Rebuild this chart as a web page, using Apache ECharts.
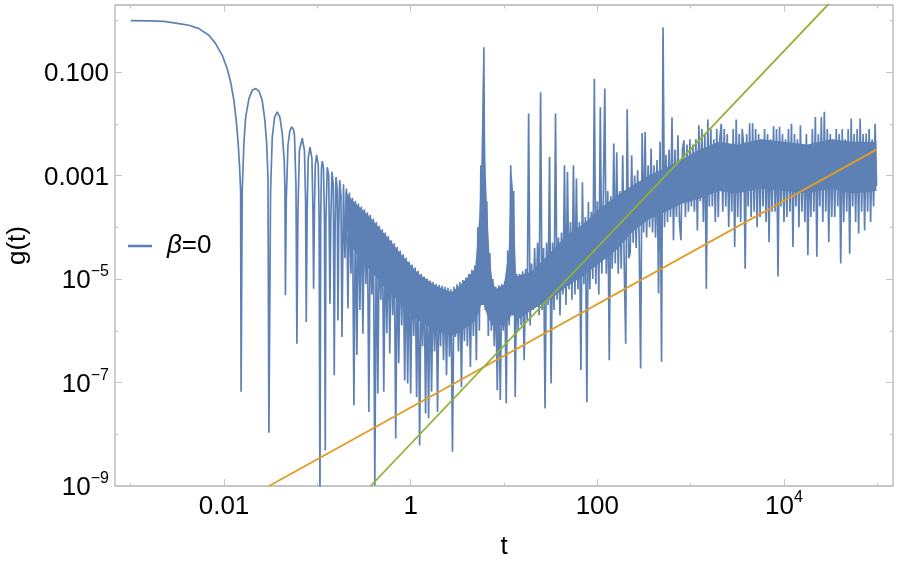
<!DOCTYPE html>
<html>
<head>
<meta charset="utf-8">
<script src="https://cdn.jsdelivr.net/npm/echarts@6/dist/echarts.min.js"></script>
<style>
  html, body { margin: 0; padding: 0; background: #fff; }
  #chart { width: 899px; height: 565px; }
</style>
</head>
<body>
<div id="chart"></div>
<script>
// every value below is a log10: log10(t) and log10(g(t))

// first drop and the resolved oscillation lobes
var earlyLogT = [-3.0, -2.8, -2.642, -2.483, -2.376, -2.269, -2.162, -2.09, -2.019, -1.966, -1.929, -1.894, -1.869, -1.848, -1.833, -1.822, -1.817,
  -1.805, -1.787, -1.768, -1.733, -1.698, -1.661, -1.626, -1.591, -1.562, -1.543, -1.529, -1.519,
  -1.501, -1.483, -1.458, -1.43, -1.401, -1.376, -1.355, -1.347, -1.342,
  -1.333, -1.315, -1.296, -1.276, -1.258, -1.245, -1.229, -1.219,
  -1.208, -1.192, -1.162, -1.138, -1.126, -1.119,
  -1.109, -1.098, -1.079, -1.058, -1.047, -1.04,
  -1.031, -1.022, -1.008, -0.99, -0.981, -0.972,
  -0.964, -0.956, -0.947, -0.934, -0.924, -0.915,
  -0.908, -0.894, -0.878, -0.865,
  -0.856, -0.843, -0.829, -0.819,
  -0.81, -0.8, -0.787, -0.779,
  -0.771, -0.761, -0.747, -0.736];
var earlyLogG = [-0.006, -0.012, -0.02, -0.065, -0.097, -0.161, -0.29, -0.451, -0.677, -0.934, -1.193, -1.55, -1.934, -2.384, -2.836, -3.29, -7.18,
  -3.29, -2.384, -1.87, -1.514, -1.354, -1.32, -1.367, -1.547, -1.934, -2.384, -3.03, -7.97,
  -3.29, -2.256, -1.87, -1.773, -1.87, -2.19, -2.706, -3.29, -5.315,
  -3.48, -2.42, -2.15, -2.06, -2.1, -2.22, -3.19, -6.25,
  -3.68, -2.52, -2.28, -2.52, -3.48, -5.83,
  -3.67, -2.67, -2.45, -2.67, -3.67, -5.19,
  -3.67, -2.8, -2.6, -2.8, -3.87, -9.4,
  -3.87, -2.86, -2.72, -2.86, -3.87, -8.31,
  -3.87, -2.84, -3.0, -5.48,
  -3.87, -2.93, -3.19, -6.86,
  -4.06, -3.03, -3.29, -5.8,
  -4.06, -3.09, -3.39, -6.12];

var denseLogT0 = -0.72;
var denseLogTStep = 0.016;
var decayLogG = [-3.17, -4.6, -3.25, -5.57, -3.33, -4.9, -3.43, -7.44, -3.49, -6.47,
  -3.54, -5.6, -3.6, -6.06, -3.65, -5.1, -3.71, -7.57, -3.76, -5.3,
  -3.83, -8.99, -3.9, -7.21, -3.97, -5.4, -4.04, -7.18, -4.1, -6.05,
  -4.17, -6.44, -4.25, -5.7, -4.31, -8.08, -4.38, -6.63, -4.45, -5.9,
  -4.52, -6.96, -4.59, -7.02, -4.66, -7.21, -4.72, -6.1, -4.78, -7.28,
  -4.84, -8.21, -4.9, -6.3, -4.95, -7.6, -4.99, -7.69, -5.03, -7.18,
  -5.06, -6.4, -5.09, -7.57, -5.11, -6.3, -5.13, -6.57, -5.15, -6.86,
  -5.17, -6.5, -5.2, -8.34, -5.15, -6.12, -5.1, -6.4, -5.06, -7.09,
  -5.02, -6.2, -4.97, -6.3, -4.9, -6.7, -4.82, -6.1, -4.74, -6.57];
var revivalLogG = [-4.0, -6.0, -2.8, -5.5, -0.52, -5.6, -3.5, -6.1, -4.5, -6.0,
  -5.0, -6.3, -5.15, -7.15, -5.12, -7.34, -5.1, -6.0, -5.05, -7.4,
  -4.45, -5.9, -2.8, -5.7, -3.3, -7.28, -4.9, -6.0, -4.9, -5.9,
  -4.85, -6.57, -4.8, -5.8, -1.8, -5.9, -4.7, -5.6, -4.4, -5.5,
  -4.3, -5.7, -1.39, -5.6, -4.4, -7.5, -4.3, -5.5, -2.64, -7.02,
  -4.3, -5.6, -1.8, -5.4, -4.2, -5.7, -4.1, -5.3, -2.8, -5.5,
  -2.93, -5.2, -3.9, -5.4, -2.8, -5.3, -3.06, -5.2, -3.9, -6.76,
  -3.13, -5.1, -3.8, -7.38, -3.51, -5.2, -3.7, -5.0, -1.13, -5.1,
  -3.5, -5.3, -1.68, -4.9, -3.4, -1.32, -4.9, -3.3, -6.57, -3.4,
  -4.8, -2.38, -4.7, -2.55, -4.9, -3.3, -4.8, -2.61, -4.7, -6.25,
  -1.72, -4.6, -4.5, -2.61, -4.3, -3.0, -4.4, -2.9, -4.2, -6.73,
  -2.18, -4.1, -2.16, -4.2, -2.8, -4.0, -2.48, -4.1, -2.8, -4.2,
  -2.7, -5.28, -2.35, -6.6, -0.14, -4.0, -2.6, -3.9, -2.5, -3.8,
  -1.88, -4.25, -2.5, -3.8, -2.22, -3.9, -4.25, -2.5, -2.32, -3.8,
  -2.4, -3.7, -2.3, -3.6, -2.4, -3.7, -2.3, -4.06, -2.03];
var plateauLogG = [-3.5, -2.1, -3.9, -2.2, -5.19, -1.92, -3.6, -2.1, -3.6, -2.3,
  -3.9, -2.1, -3.8, -2.3, -2.0, -3.7, -2.1, -3.6, -2.2, -4.0,
  -2.4, -3.7, -2.1, -4.38, -1.92, -3.8, -2.2, -3.9, -2.1, -2.4,
  -4.8, -2.2, -3.6, -1.99, -3.8, -1.99, -3.7, -2.1, -4.0, -2.2,
  -3.8, -2.3, -3.6, -2.1, -3.9, -2.2, -4.29, -2.3, -3.7, -2.05,
  -3.7, -2.1, -4.95, -2.06, -3.6, -2.2, -3.9, -2.3, -3.8, -2.1,
  -3.7, -2.0, -4.38, -2.2, -3.6, -2.3, -4.0, -2.03, -3.7, -2.4,
  -3.9, -2.2, -4.54, -2.5, -3.8, -2.1, -3.7, -1.87, -4.57, -2.2,
  -3.6, -1.87, -3.9, -1.77, -3.7, -2.1, -4.29, -2.2, -3.8, -2.3,
  -3.8, -2.1, -3.6, -2.2, -4.7, -2.1, -3.9, -2.3, -3.7, -2.1,
  -4.51, -1.9, -3.6, -2.2, -3.9, -2.1, -4.12, -1.9, -3.7, -2.2,
  -4.06, -2.19, -3.7, -2.1, -3.9, -2.3, -3.6, -2.0, -3.2];

// where the oscillations are too fast to resolve: top and bottom of the solid band
var coreLogT = [-0.70, -0.63, -0.45, -0.26, -0.09, 0.09, 0.27, 0.44, 0.55, 0.69,
  0.72, 0.737, 0.755, 0.774, 0.779, 0.785, 0.80, 0.82, 0.845, 0.875,
  0.91, 1.0, 1.05, 1.08, 1.10, 1.13, 1.30, 1.49, 1.67, 1.84,
  2.02, 2.2, 2.37, 2.55, 2.73, 2.9, 3.09, 3.3, 3.5, 3.75,
  4.0, 4.25, 4.5, 4.75, 4.99];
var coreTopLogG = [-3.3, -3.47, -3.78, -4.17, -4.55, -4.91, -5.13, -5.25, -5.08, -4.8,
  -4.15, -3.75, -2.9, -0.95, -0.6, -0.95, -2.75, -3.65, -4.55, -5.02,
  -5.2, -5.1, -4.45, -2.9, -3.35, -4.95, -4.85, -4.5, -4.15, -3.95,
  -3.65, -3.4, -3.2, -3.0, -2.85, -2.7, -2.5, -2.35, -2.4, -2.3,
  -2.35, -2.4, -2.3, -2.35, -2.35];
var coreBottomLogG = [-3.9, -4.4, -4.8, -5.2, -5.5, -5.8, -6.0, -6.1, -6.0, -5.8,
  -5.7, -5.6, -5.5, -5.5, -5.5, -5.5, -5.6, -5.7, -5.8, -5.9,
  -5.9, -5.9, -5.8, -5.7, -5.7, -5.8, -5.6, -5.4, -5.15, -4.95,
  -4.7, -4.45, -4.1, -3.85, -3.7, -3.55, -3.45, -3.3, -3.35, -3.25,
  -3.3, -3.35, -3.25, -3.35, -3.3];

// the two power-law guide lines
var orangeLogT = [-1.518, 4.99];
var orangeLogG = [-9, -2.5];
var greenLogT = [-0.429, 4.6];
var greenLogG = [-9, 0.545];

// ticks
var xMajorLogT = [-2, 0, 2, 4];
var xMajorLabels = ['0.01', '1', '100', '10{sup|4}'];
var xMinorLogT = [-3, -1, 1, 3, 5];
var yMajorLogG = [-9, -7, -5, -3, -1];
var yMajorLabels = ['10{sup|\u22129}', '10{sup|\u22127}', '10{sup|\u22125}', '0.001', '0.100'];
var yMinorLogG = [-8, -6, -4, -2, 0];

var blueData = [];
earlyLogT.forEach(function (lt, i) { blueData.push([lt, earlyLogG[i]]); });
decayLogG.concat(revivalLogG, plateauLogG).forEach(function (lg, i) {
  blueData.push([denseLogT0 + denseLogTStep * i, lg]);
});
var orangeData = orangeLogT.map(function (lt, i) { return [lt, orangeLogG[i]]; });
var greenData = greenLogT.map(function (lt, i) { return [lt, greenLogG[i]]; });

var BLUE = '#5e81b5';
var font = '"Liberation Sans", Arial, sans-serif';
var tickColor = '#c6c6c6';
var labelRich = {
  b: { fontSize: 26, lineHeight: 30, verticalAlign: 'bottom', fontFamily: font, color: '#000' },
  sup: { fontSize: 16, lineHeight: 16, verticalAlign: 'top', fontFamily: font, color: '#000' }
};

function lookup(values, labels) {
  return function (v) {
    var k = values.indexOf(Math.round(v));
    if (k < 0) return '';
    var s = labels[k];
    var p = s.indexOf('{');
    return p < 0 ? '{b|' + s + '}' : '{b|' + s.slice(0, p) + '}' + s.slice(p);
  };
}

function axis(kind, pos, min, max, ticks, len, labels) {
  var a = {
    type: 'value', position: pos, min: min, max: max, offset: 0,
    axisLine: { show: false, onZero: false }, splitLine: { show: false },
    axisTick: { show: true, inside: true, length: len, customValues: ticks, lineStyle: { color: tickColor, width: 1 } },
    axisLabel: { show: false }
  };
  if (labels) {
    a.axisLabel = { show: true, customValues: ticks, margin: kind === 'x' ? 4 : 6, formatter: lookup(ticks, labels), rich: labelRich };
  }
  return a;
}

var X_MIN = -3.168, X_MAX = 5.168, Y_MIN = -9, Y_MAX = 0.295;

var xBottom = axis('x', 'bottom', X_MIN, X_MAX, xMajorLogT, 7, xMajorLabels);
xBottom.name = 't';
xBottom.nameLocation = 'middle';
xBottom.nameGap = 48;
xBottom.nameTextStyle = { fontSize: 26, fontFamily: font, color: '#000' };

var yLeft = axis('y', 'left', Y_MIN, Y_MAX, yMajorLogG, 7, yMajorLabels);
yLeft.name = 'g(t)';
yLeft.nameLocation = 'middle';
yLeft.nameGap = 84;
yLeft.nameTextStyle = { fontSize: 26, fontFamily: font, color: '#000' };

var chart = echarts.init(document.getElementById('chart'), null, { renderer: 'canvas' });
chart.setOption({
  animation: false,
  backgroundColor: '#fff',
  grid: {
    left: 115, right: 6, top: 5, bottom: 79,
    containLabel: false, outerBoundsMode: 'none',
    show: true, borderColor: '#b4b4b4', borderWidth: 1.3, backgroundColor: 'transparent'
  },
  legend: {
    data: ['\u03b2=0'],
    left: 128, top: 233, padding: 0,
    icon: 'rect', itemWidth: 24, itemHeight: 2.5,
    selectedMode: false,
    formatter: function () { return '{i|\u03b2}{r|=0}'; },
    textStyle: {
      padding: [0, 0, 0, 10],
      rich: {
        i: { fontSize: 26, lineHeight: 30, fontStyle: 'italic', fontFamily: font, color: '#000' },
        r: { fontSize: 26, lineHeight: 30, fontFamily: font, color: '#000' }
      }
    }
  },
  xAxis: [
    xBottom,
    axis('x', 'bottom', X_MIN, X_MAX, xMinorLogT, 3.5),
    axis('x', 'top', X_MIN, X_MAX, xMajorLogT, 7),
    axis('x', 'top', X_MIN, X_MAX, xMinorLogT, 3.5)
  ],
  yAxis: [
    yLeft,
    axis('y', 'left', Y_MIN, Y_MAX, yMinorLogG, 3.5),
    axis('y', 'right', Y_MIN, Y_MAX, yMajorLogG, 7),
    axis('y', 'right', Y_MIN, Y_MAX, yMinorLogG, 3.5)
  ],
  series: [
    {
      // solid body of the unresolved oscillations
      name: 'core', type: 'custom', silent: true, clip: true,
      data: [[coreLogT[0], coreTopLogG[0]]],
      renderItem: function (params, api) {
        var pts = [];
        coreLogT.forEach(function (lt, i) { pts.push(api.coord([lt, coreTopLogG[i]])); });
        for (var i = coreLogT.length - 1; i >= 0; i--) pts.push(api.coord([coreLogT[i], coreBottomLogG[i]]));
        return { type: 'polygon', shape: { points: pts }, style: { fill: BLUE } };
      }
    },
    {
      name: '\u03b2=0', type: 'line', data: blueData, showSymbol: false, symbol: 'none',
      clip: true, color: BLUE, lineStyle: { color: BLUE, width: 1.7 }
    },
    {
      name: 'orange', type: 'line', data: orangeData, showSymbol: false, symbol: 'none',
      clip: true, color: '#e19c24', lineStyle: { color: '#e19c24', width: 1.8 }
    },
    {
      name: 'green', type: 'line', data: greenData, showSymbol: false, symbol: 'none',
      clip: true, color: '#8fb131', lineStyle: { color: '#8fb131', width: 1.8 }
    }
  ]
});
</script>
</body>
</html>
